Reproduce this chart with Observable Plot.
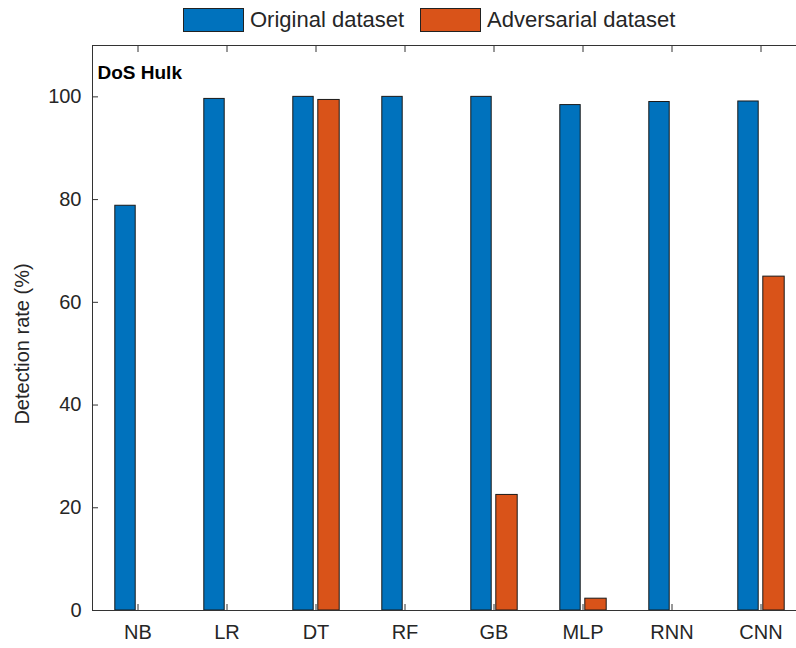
<!DOCTYPE html>
<html><head><meta charset="utf-8">
<script src="https://cdn.jsdelivr.net/npm/d3@7"></script>
<script src="https://cdn.jsdelivr.net/npm/@observablehq/plot@0.6"></script>
<style>
html,body{margin:0;padding:0;background:#fff;overflow:hidden;width:796px;height:648px}
#legend{position:relative;height:40px;font-family:"Liberation Sans",Arial,sans-serif;font-size:22px;color:#262626}
.item{position:absolute;top:8px;display:flex;align-items:center;height:24px;white-space:nowrap}
.sw{box-sizing:border-box;width:61px;height:24px;border:1.5px solid #222;margin-right:6px}
#chart{width:796px;height:608px;overflow:hidden}
#chart svg{display:block;max-width:none !important;width:840px;height:608px}
</style></head><body>
<div id="legend"></div><div id="chart"></div>
<script>
const models = ["NB","LR","DT","RF","GB","MLP","RNN","CNN"];
const original = [78.8, 99.6, 100, 100, 100, 98.4, 99.0, 99.1];
const adversarial = [0, 0, 99.4, 0, 22.5, 2.3, 0, 65.0];
const seriesNames = ["Original dataset","Adversarial dataset"];
const colors = ["#0072BD","#D95319"];
const yTicks = [0,20,40,60,80,100];
const yMax = 110;
const panelTitle = "DoS Hulk";
const yLabel = "Detection rate (%)";

const legend = document.getElementById("legend");
const legendLeft = [183, 420];
seriesNames.forEach((s,i)=>{
  const it = document.createElement("div");
  it.className = "item";
  it.style.left = legendLeft[i] + "px";
  const sw = document.createElement("div");
  sw.className = "sw";
  sw.style.background = colors[i];
  const t = document.createElement("span");
  t.textContent = s;
  it.appendChild(sw); it.appendChild(t);
  legend.appendChild(it);
});

const dataO = models.map((m,i)=>({model:m, value: original[i]}));
const dataA = models.map((m,i)=>({model:m, value: adversarial[i]}));
const font = "Liberation Sans, Arial, sans-serif";
const plot = Plot.plot({
  width: 840, height: 608,
  marginLeft: 92, marginRight: 32, marginTop: 5, marginBottom: 38,
  style: {fontFamily: font, fontSize: "20px", color:"#262626", background:"white", overflow:"visible", maxWidth:"none"},
  x: {domain: models, padding: 0, insetLeft: -2, insetRight: 1},
  y: {domain: [0, yMax]},
  marks: [
    Plot.barY(dataO, {x:"model", y:"value", fill: colors[0], stroke:"#1a1a1a", strokeWidth:1, insetLeft:21.8, insetRight:46.8}),
    Plot.barY(dataA, {x:"model", y:"value", fill: colors[1], stroke:"#1a1a1a", strokeWidth:1, insetLeft:46.8, insetRight:20.8}),
    Plot.ruleY([0, yMax], {stroke:"#333", strokeWidth: 1}),
    Plot.frame({anchor:"left", stroke:"#333", strokeWidth: 1}),
    Plot.axisY({ticks: yTicks, tickSize: -6, tickPadding: 17, label: null, stroke:"#333", fill:"#262626"}),
    Plot.axisX({anchor:"bottom", tickSize:-6, tickPadding: 20, label: null, stroke:"#333", fill:"#262626"}),
    Plot.axisX({anchor:"top", tickSize:-6, tickFormat: () => "", label: null, stroke:"#333"}),
    Plot.text([panelTitle], {frameAnchor:"top-left", dx: 5, dy: 20, fontWeight:"bold", fontSize: 19, fill:"black", textAnchor:"start"}),
    Plot.text([yLabel], {frameAnchor:"left", rotate:-90, textAnchor:"middle", dx:-70, dy: 16, fontSize: 20, fill:"#262626"})
  ]
});
document.getElementById("chart").appendChild(plot);
</script>
</body></html>
